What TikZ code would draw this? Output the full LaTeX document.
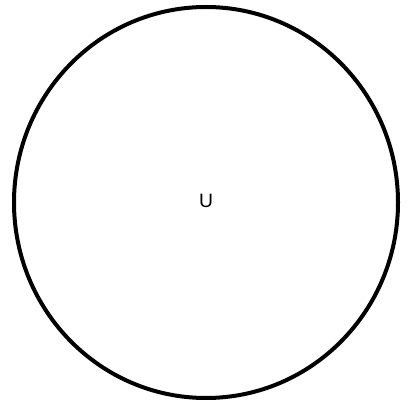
\documentclass[tikz,border=0pt]{standalone}
\usepackage{fontspec}
\setmainfont{Liberation Sans}
\begin{document}
\begin{tikzpicture}[x=0.75pt,y=-0.75pt,
  outline/.style={line width=3pt,draw=black},
  lbl/.style={font=\fontsize{14.5}{16}\selectfont,inner sep=0pt}]
\useasboundingbox (0,0) rectangle (414,402);
\draw[outline] (206,202.5) ellipse [x radius=192, y radius=195.5];
\node[lbl] (u) at (206,201) {U};
\end{tikzpicture}
\end{document}
